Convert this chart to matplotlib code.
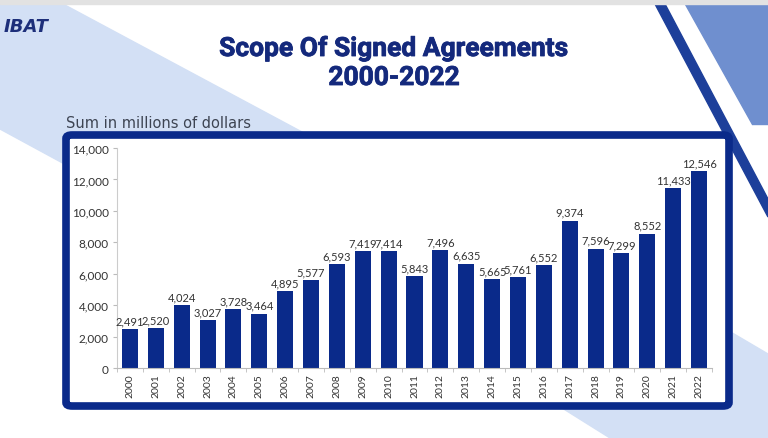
import matplotlib.pyplot as plt
import matplotlib.patheffects as pe
from matplotlib.patches import FancyBboxPatch, Polygon

years = [str(y) for y in range(2000, 2023)]
amounts = [2491, 2520, 4024, 3027, 3728, 3464, 4895, 5577, 6593, 7419, 7414, 5843,
           7496, 6635, 5665, 5761, 6552, 9374, 7596, 7299, 8552, 11433, 12546]
y_ticks = [0, 2000, 4000, 6000, 8000, 10000, 12000, 14000]

navy = "#0a2a8a"
light = "#d3e0f5"
W, H = 768, 439

fig = plt.figure(figsize=(7.68, 4.39), dpi=100)
fig.patch.set_facecolor("white")

def px(pts):
    # pixel coords (from top-left) -> figure fraction
    return [(x / W, 1 - y / H) for x, y in pts]

def shape(pts, color):
    fig.patches.append(Polygon(px(pts), closed=True, transform=fig.transFigure,
                               color=color, zorder=0))

# background shapes
shape([(0, 5), (63, 5), (330, 148), (70, 168), (0, 130)], light)
shape([(420, 150), (768, 355), (768, 439), (610, 439), (420, 320)], light)
shape([(685, 5), (768, 5), (768, 125), (752, 125)], "#6f8fcf")
shape([(655, 5), (665, 5), (768, 200), (768, 218)], "#1d3f9a")
shape([(0, 0), (768, 0), (768, 5), (0, 5)], "#e2e2e2")

# framed box
box = FancyBboxPatch((66 / W, 1 - 407 / H), (729 - 66) / W, (407 - 136) / H,
                     boxstyle="round,pad=0,rounding_size=0.008",
                     transform=fig.transFigure, facecolor="white",
                     edgecolor=navy, linewidth=5.5, zorder=1)
fig.patches.append(box)

# logo text
fig.text(0.005, 1 - 27 / H, "IBAT", fontsize=13, style="italic", color="#1d2f7a",
         fontweight="bold", va="center")

title_font = dict(ha="center", va="center", fontsize=19, fontweight="bold",
                  color="#14297c", family="Roboto",
                  path_effects=[pe.withStroke(linewidth=0.6, foreground="#14297c")])
fig.text(394 / W, 1 - 50 / H, "Scope Of Signed Agreements", **title_font)
fig.text(394 / W, 1 - 79 / H, "2000-2022", **title_font)
fig.text(66 / W, 1 - 124 / H, "Sum in millions of dollars", ha="left", va="center",
         fontsize=10.5, color="#3d4452")

ax = fig.add_axes([117 / W, 1 - 369 / H, (712 - 117) / W, (369 - 149) / H], zorder=2)
ax.set_facecolor("none")
x = range(len(years))
bars = ax.bar(x, amounts, width=0.62, color=navy)
for xi, v in zip(x, amounts):
    ax.text(xi, v + 180, f"{v:,}", ha="center", va="bottom", fontsize=8,
            color="#333333", family="Lato")

ax.set_xlim(-0.42, len(years) - 0.58)
ax.set_ylim(0, 14000)
ax.set_yticks(y_ticks)
ax.set_yticklabels([f"{t:,}" for t in y_ticks], fontsize=8.5, color="#333333", family="Lato")
ax.set_xticks(list(x))
ax.set_xticklabels(years, rotation=90, fontsize=7.5, color="#333333", family="Lato")
ax.set_xticks([i + 0.5 for i in range(-1, len(years))], minor=True)
ax.tick_params(axis="x", which="major", length=0, pad=4)
ax.tick_params(axis="x", which="minor", length=3, color="#bbbbbb")
ax.tick_params(axis="y", length=3, color="#bbbbbb", pad=3)
for s in ["top", "right"]:
    ax.spines[s].set_visible(False)
ax.spines["left"].set_color("#cccccc")
ax.spines["bottom"].set_color("#bbbbbb")

plt.savefig("out.png", dpi=100)
